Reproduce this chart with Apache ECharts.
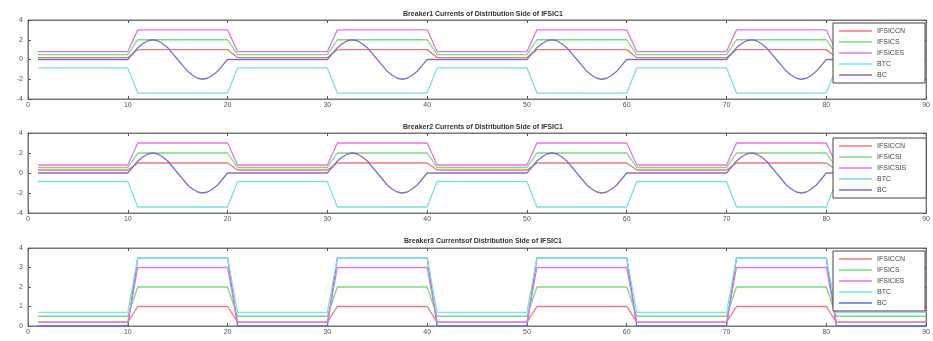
<!DOCTYPE html>
<html>
<head>
<meta charset="utf-8">
<script src="https://cdn.jsdelivr.net/npm/echarts@6/dist/echarts.min.js"></script>
<style>
  html, body { margin: 0; padding: 0; background: #fff; }
  #chart { width: 933px; height: 341px; }
</style>
</head>
<body>
<div id="chart"></div>
<script>
// time break points of the switching steps
const tStep = [1, 10, 11, 20, 21, 30, 31, 40, 41, 50, 51, 60, 61, 70, 71, 80, 81, 90];
// time points of the BC wave (sampled every 0.5 during each on period)
const tBC = [1,
  10, 10.5, 11, 11.5, 12, 12.5, 13, 13.5, 14, 14.5, 15, 15.5, 16, 16.5, 17, 17.5, 18, 18.5, 19, 19.5, 20,
  30, 30.5, 31, 31.5, 32, 32.5, 33, 33.5, 34, 34.5, 35, 35.5, 36, 36.5, 37, 37.5, 38, 38.5, 39, 39.5, 40,
  50, 50.5, 51, 51.5, 52, 52.5, 53, 53.5, 54, 54.5, 55, 55.5, 56, 56.5, 57, 57.5, 58, 58.5, 59, 59.5, 60,
  70, 70.5, 71, 71.5, 72, 72.5, 73, 73.5, 74, 74.5, 75, 75.5, 76, 76.5, 77, 77.5, 78, 78.5, 79, 79.5, 80,
  90];

// Breaker1
const b1CCN = [0.2, 0.2, 1, 1, 0.2, 0.2, 1, 1, 0.2, 0.2, 1, 1, 0.2, 0.2, 1, 1, 0.2, 0.2];
const b1CS  = [0.5, 0.5, 2, 2, 0.5, 0.5, 2, 2, 0.5, 0.5, 2, 2, 0.5, 0.5, 2, 2, 0.5, 0.5];
const b1CES = [0.8, 0.8, 3, 3, 0.8, 0.8, 3, 3, 0.8, 0.8, 3, 3, 0.8, 0.8, 3, 3, 0.8, 0.8];
const b1BTC = [-0.85, -0.85, -3.4, -3.4, -0.85, -0.85, -3.4, -3.4, -0.85, -0.85, -3.4, -3.4, -0.85, -0.85, -3.4, -3.4, -0.85, -0.85];
const b1BC = [0,
  0, 0.6, 1.2, 1.6, 1.9, 2, 1.9, 1.6, 1.2, 0.6, 0, -0.6, -1.2, -1.6, -1.9, -2, -1.9, -1.6, -1.2, -0.6, 0,
  0, 0.6, 1.2, 1.6, 1.9, 2, 1.9, 1.6, 1.2, 0.6, 0, -0.6, -1.2, -1.6, -1.9, -2, -1.9, -1.6, -1.2, -0.6, 0,
  0, 0.6, 1.2, 1.6, 1.9, 2, 1.9, 1.6, 1.2, 0.6, 0, -0.6, -1.2, -1.6, -1.9, -2, -1.9, -1.6, -1.2, -0.6, 0,
  0, 0.6, 1.2, 1.6, 1.9, 2, 1.9, 1.6, 1.2, 0.6, 0, -0.6, -1.2, -1.6, -1.9, -2, -1.9, -1.6, -1.2, -0.6, 0,
  0];

// Breaker2
const b2CCN = [0.3, 0.3, 1, 1, 0.3, 0.3, 1, 1, 0.3, 0.3, 1, 1, 0.3, 0.3, 1, 1, 0.3, 0.3];
const b2CSI = [0.55, 0.55, 2, 2, 0.55, 0.55, 2, 2, 0.55, 0.55, 2, 2, 0.55, 0.55, 2, 2, 0.55, 0.55];
const b2CSIS = [0.8, 0.8, 3, 3, 0.8, 0.8, 3, 3, 0.8, 0.8, 3, 3, 0.8, 0.8, 3, 3, 0.8, 0.8];
const b2BTC = [-0.85, -0.85, -3.4, -3.4, -0.85, -0.85, -3.4, -3.4, -0.85, -0.85, -3.4, -3.4, -0.85, -0.85, -3.4, -3.4, -0.85, -0.85];
const b2BC = [0,
  0, 0.6, 1.2, 1.6, 1.9, 2, 1.9, 1.6, 1.2, 0.6, 0, -0.6, -1.2, -1.6, -1.9, -2, -1.9, -1.6, -1.2, -0.6, 0,
  0, 0.6, 1.2, 1.6, 1.9, 2, 1.9, 1.6, 1.2, 0.6, 0, -0.6, -1.2, -1.6, -1.9, -2, -1.9, -1.6, -1.2, -0.6, 0,
  0, 0.6, 1.2, 1.6, 1.9, 2, 1.9, 1.6, 1.2, 0.6, 0, -0.6, -1.2, -1.6, -1.9, -2, -1.9, -1.6, -1.2, -0.6, 0,
  0, 0.6, 1.2, 1.6, 1.9, 2, 1.9, 1.6, 1.2, 0.6, 0, -0.6, -1.2, -1.6, -1.9, -2, -1.9, -1.6, -1.2, -0.6, 0,
  0];

// Breaker3
const b3CCN = [0.2, 0.2, 1, 1, 0.2, 0.2, 1, 1, 0.2, 0.2, 1, 1, 0.2, 0.2, 1, 1, 0.2, 0.2];
const b3CS  = [0.5, 0.5, 2, 2, 0.5, 0.5, 2, 2, 0.5, 0.5, 2, 2, 0.5, 0.5, 2, 2, 0.5, 0.5];
const b3CES = [0.2, 0.2, 3, 3, 0.2, 0.2, 3, 3, 0.2, 0.2, 3, 3, 0.2, 0.2, 3, 3, 0.2, 0.2];
const b3BTC = [0.7, 0.7, 3.5, 3.5, 0.7, 0.7, 3.5, 3.5, 0.7, 0.7, 3.5, 3.5, 0.7, 0.7, 3.5, 3.5, 0.7, 0.7];
const b3BC  = [0, 0, 3.5, 3.5, 0, 0, 3.5, 3.5, 0, 0, 3.5, 3.5, 0, 0, 3.5, 3.5, 0, 0];

const titles = [
  'Breaker1 Currents of Distribution Side of IFSIC1',
  'Breaker2 Currents of Distribution Side of IFSIC1',
  'Breaker3 Currentsof Distribution Side of IFSIC1'
];
// zero-width suffixes keep the names of each subplot apart
const names1 = ['IFSICCN', 'IFSICS', 'IFSICES', 'BTC', 'BC'];
const names2 = ['IFSICCN\u200b', 'IFSICSI', 'IFSICSIS', 'BTC\u200b', 'BC\u200b'];
const names3 = ['IFSICCN\u200b\u200b', 'IFSICS\u200b', 'IFSICES\u200b', 'BTC\u200b\u200b', 'BC\u200b\u200b'];

const colors = ['#f07878', '#78dc78', '#e078e0', '#78e0e0', '#7c70cc'];
const colors3 = ['#f07878', '#78dc78', '#e078e0', '#78e4e4', '#5c6ee0'];

const FONT = 'Liberation Sans';
const grids = [
  { left: 28, right: 5, top: 20, height: 79 },
  { left: 28, right: 5, top: 133, height: 80 },
  { left: 28, right: 5, top: 248, height: 78 }
];
const yRanges = [[-4, 4, 2], [-4, 4, 2], [0, 4, 1]];

const pairs = (xs, ys) => xs.map((x, i) => [x, ys[i]]);

const chart = echarts.init(document.getElementById('chart'));

const xAxes = [];
const yAxes = [];
grids.forEach((g, i) => {
  const base = {
    type: 'value', gridIndex: i, min: 0, max: 90, interval: 10,
    axisLine: { show: true, onZero: false, lineStyle: { color: '#777', width: 1 } },
    axisTick: { show: true, inside: true, length: 3, lineStyle: { color: '#555' } },
    splitLine: { show: false }
  };
  xAxes.push(Object.assign({}, base, {
    position: 'bottom',
    axisLabel: { fontSize: 7, color: '#555', fontFamily: FONT, margin: 3 }
  }));
  xAxes.push(Object.assign({}, base, {
    position: 'top',
    axisLabel: { show: false }
  }));
  const yb = {
    type: 'value', gridIndex: i,
    min: yRanges[i][0], max: yRanges[i][1], interval: yRanges[i][2],
    axisLine: { show: true, onZero: false, lineStyle: { color: '#777', width: 1 } },
    axisTick: { show: true, inside: true, length: 3, lineStyle: { color: '#555' } },
    splitLine: { show: false }
  };
  yAxes.push(Object.assign({}, yb, {
    position: 'left',
    axisLabel: { fontSize: 7, color: '#555', fontFamily: FONT, margin: 5 }
  }));
  yAxes.push(Object.assign({}, yb, {
    position: 'right',
    axisLabel: { show: false }
  }));
});

const mk = (name, gi, data, color, z) => ({
  name: name, type: 'line', xAxisIndex: gi * 2, yAxisIndex: gi * 2,
  data: data, symbol: 'none', smooth: false, z: z || 2,
  lineStyle: { color: color, width: 1.3 }, itemStyle: { color: color },
  animation: false
});

const series = [
  mk(names1[0], 0, pairs(tStep, b1CCN), colors[0]),
  mk(names1[1], 0, pairs(tStep, b1CS), colors[1]),
  mk(names1[2], 0, pairs(tStep, b1CES), colors[2]),
  mk(names1[3], 0, pairs(tStep, b1BTC), colors[3]),
  mk(names1[4], 0, pairs(tBC, b1BC), colors[4]),
  mk(names2[0], 1, pairs(tStep, b2CCN), colors[0]),
  mk(names2[1], 1, pairs(tStep, b2CSI), colors[1]),
  mk(names2[2], 1, pairs(tStep, b2CSIS), colors[2]),
  mk(names2[3], 1, pairs(tStep, b2BTC), colors[3]),
  mk(names2[4], 1, pairs(tBC, b2BC), colors[4]),
  mk(names3[0], 2, pairs(tStep, b3CCN), colors3[0]),
  mk(names3[1], 2, pairs(tStep, b3CS), colors3[1]),
  mk(names3[2], 2, pairs(tStep, b3CES), colors3[2]),
  mk(names3[3], 2, pairs(tStep, b3BTC), colors3[3], 3),
  mk(names3[4], 2, pairs(tStep, b3BC), colors3[4], 1)
];

const legendTops = [23, 138, 251];
const legends = [names1, names2, names3].map((names, i) => ({
  data: names,
  orient: 'vertical',
  left: 833, top: legendTops[i],
  backgroundColor: '#fff',
  borderColor: '#444', borderWidth: 1, borderRadius: 0,
  padding: [4, 20, 4, 6],
  icon: 'rect',
  itemWidth: 33, itemHeight: 1.3, itemGap: 3,
  textStyle: { fontSize: 7, color: '#444', fontFamily: FONT, lineHeight: 8 },
  selectedMode: false
}));

const titleTops = [6, 119, 233];
const option = {
  backgroundColor: '#fff',
  animation: false,
  title: titles.map((t, i) => ({
    text: t, left: 478, top: titleTops[i], textAlign: 'center',
    textStyle: { fontSize: 7, fontWeight: 'bold', color: '#333', fontFamily: FONT }
  })),
  grid: grids.map(g => Object.assign({ show: true, borderColor: '#777', borderWidth: 1, backgroundColor: '#fff' }, g)),
  legend: legends,
  xAxis: xAxes,
  yAxis: yAxes,
  series: series
};
chart.setOption(option);
</script>
</body>
</html>
